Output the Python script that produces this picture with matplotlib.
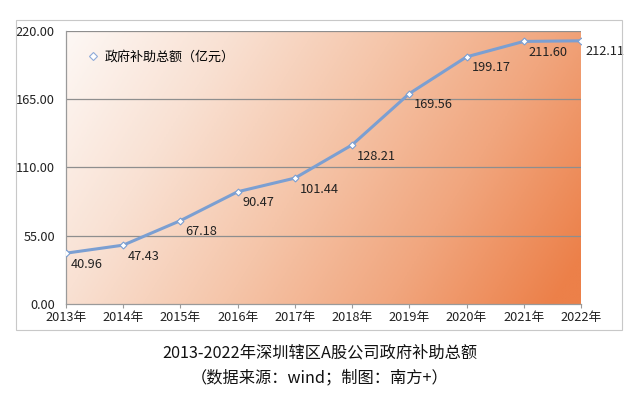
#! /usr/bin/env python3

import numpy as np
import matplotlib
matplotlib.use('Agg')
import matplotlib.pyplot as plt
from matplotlib.colors import LinearSegmentedColormap
from matplotlib.lines import Line2D
from matplotlib.patches import Rectangle

years = ['2013年', '2014年', '2015年', '2016年', '2017年',
         '2018年', '2019年', '2020年', '2021年', '2022年']
subsidy = [40.96, 47.43, 67.18, 90.47, 101.44, 128.21, 169.56, 199.17, 211.60, 212.11]
yticks = [0, 55, 110, 165, 220]
series_name = '政府补助总额（亿元）'
title_lines = ['2013-2022年深圳辖区A股公司政府补助总额', '（数据来源：wind；制图：南方+）']

plt.rcParams['font.family'] = ['Noto Sans CJK SC', 'DejaVu Sans']

W, H = 640, 396
fig = plt.figure(figsize=(W / 100, H / 100), dpi=100)

# outer frame of the screenshot
fig.patches.append(Rectangle((16 / W, 1 - 330 / H), (622 - 16) / W, (330 - 20) / H,
                             transform=fig.transFigure, fill=False,
                             edgecolor='#c8c8c8', linewidth=0.8))

ax = fig.add_axes([66 / W, 1 - 304 / H, (581 - 66) / W, (304 - 31) / H])

x = np.arange(len(years))

# diagonal orange gradient background
gx, gy = np.meshgrid(np.linspace(0, 1, 300), np.linspace(0, 1, 200))
t = np.clip(0.78 * gx + 0.26 * gy, 0, 1)
cmap = LinearSegmentedColormap.from_list(
    'bg', ['#fdf8f5', '#f9e1d3', '#f5c5a9', '#f1a67e', '#ec8049'])
ax.imshow(t, cmap=cmap, extent=[0, len(years) - 1, 0, 220], origin='upper',
          aspect='auto', zorder=0, interpolation='bilinear')

for yv in yticks[1:]:
    ax.axhline(yv, color='#8e8e8e', linewidth=0.9, zorder=1)

ax.plot(x, subsidy, color='#7b9fd2', linewidth=2.2, zorder=3,
        marker='D', markersize=3.5, markerfacecolor='white',
        markeredgecolor='#7b9fd2', markeredgewidth=0.8)

for xi, v in zip(x, subsidy):
    ax.annotate('{:.2f}'.format(v), (xi, v), xytext=(3.5, -8),
                textcoords='offset points', ha='left', va='center',
                fontsize=9.2, color='#222222', zorder=4)

ax.set_xlim(0, len(years) - 1)
ax.set_ylim(0, 220)
ax.set_xticks(x)
ax.set_xticklabels(years, fontsize=9.2, color='#222222')
ax.set_yticks(yticks)
ax.set_yticklabels(['{:.2f}'.format(v) for v in yticks], fontsize=9.2, color='#222222')
ax.tick_params(axis='x', length=3, color='#9a9a9a', pad=2)
ax.tick_params(axis='y', length=0, pad=8)

for side in ['top', 'right']:
    ax.spines[side].set_visible(False)
for side in ['left', 'bottom']:
    ax.spines[side].set_color('#9a9a9a')
    ax.spines[side].set_linewidth(0.9)

handle = Line2D([], [], linestyle='none', marker='D', markersize=4.5,
                markerfacecolor='white', markeredgecolor='#8faad8', markeredgewidth=0.8)
ax.legend([handle], [series_name], loc='upper left', bbox_to_anchor=(0.02, 0.97),
          frameon=False, fontsize=9.4, handlelength=0.8, handletextpad=0.5)

fig.text(0.5, 1 - 353 / H, title_lines[0], ha='center', va='center', fontsize=11.7, color='#111111')
fig.text(0.5, 1 - 378 / H, title_lines[1], ha='center', va='center', fontsize=11.7, color='#111111')

plt.savefig('out.png', dpi=100)
